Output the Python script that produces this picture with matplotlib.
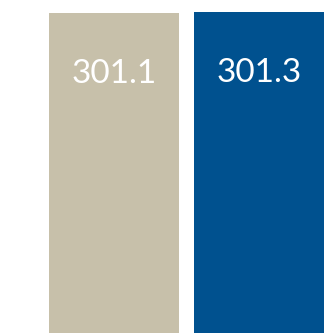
import matplotlib.pyplot as plt

categories = ['A', 'B']
values = [301.1, 301.3]
colors = ['#C7C0AA', '#00518F']

fig = plt.figure(figsize=(3.36, 3.33), dpi=100)
ax = fig.add_axes([0, 0, 1, 1])

x = range(len(categories))
bars = ax.bar(x, values, width=130 / 145, color=colors)

# value labels sit inside the bars, near the top
for b, v in zip(bars, values):
    ax.annotate(f'{v:.1f}', (b.get_x() + b.get_width() / 2, v),
                xytext=(0, -70), textcoords='offset pixels',
                ha='center', va='baseline', color='white',
                fontsize=24, family=['Lato', 'DejaVu Sans'])

ax.set_xlim(-114 / 145, 1 + 77 / 145)
ax.set_ylim(0, 301.3 * 333 / (333 - 12.3))
ax.set_axis_off()

fig.savefig('out.png', dpi=100)
